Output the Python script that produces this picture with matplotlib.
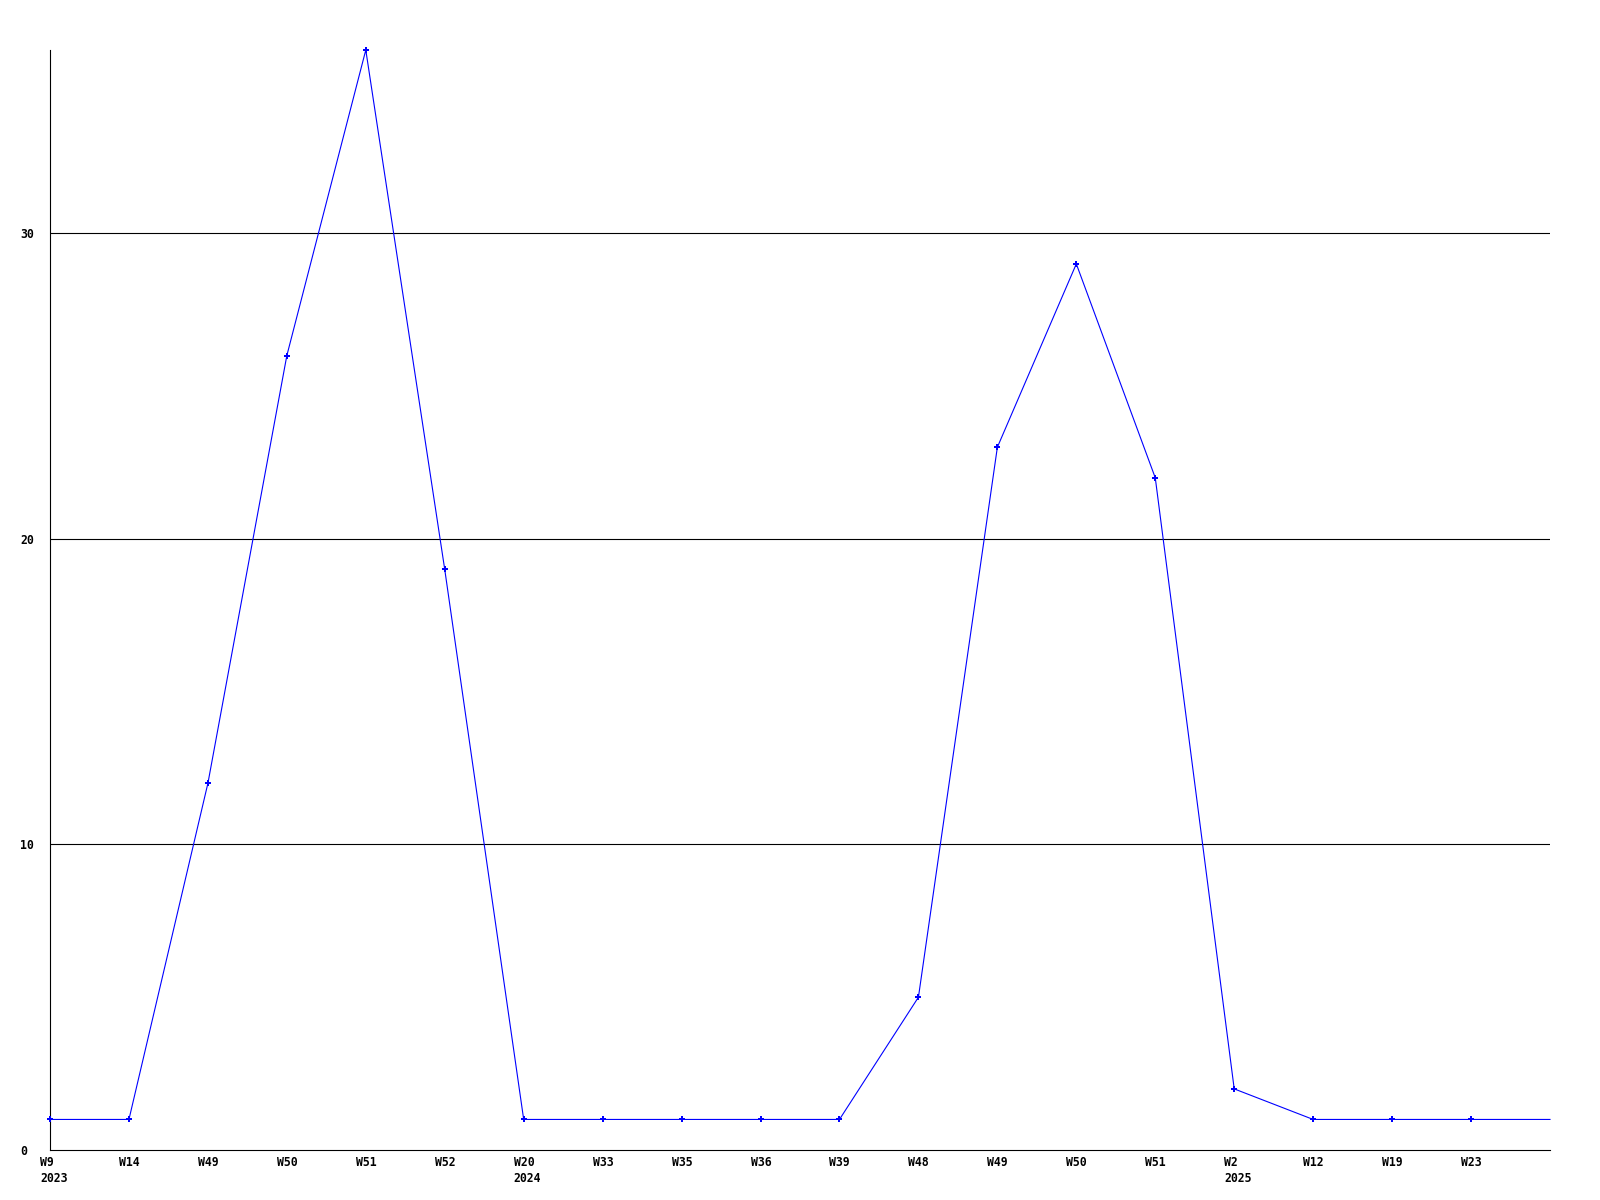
"""Weekly counts, 2023-2025: line chart with a week-label axis."""
import matplotlib
matplotlib.use("Agg")
import matplotlib.pyplot as plt
from matplotlib.transforms import ScaledTranslation

# week labels (year shown under the first week of each year)
weeks = ["W9", "W14", "W49", "W50", "W51", "W52", "W20", "W33", "W35", "W36",
         "W39", "W48", "W49", "W50", "W51", "W2", "W12", "W19", "W23"]
years = ["2023", "", "", "", "", "", "2024", "", "", "",
         "", "", "", "", "", "2025", "", "", ""]
counts = [1, 1, 12, 26, 36, 19, 1, 1, 1, 1, 1, 5, 23, 29, 22, 2, 1, 1, 1]
# the line runs on to the right edge of the plot at the last value
tail_count = 1
y_ticks = [0, 10, 20, 30]

BLUE = "#0000ff"
FONT = dict(family="DejaVu Sans Mono", weight="bold", size=8.3)

fig = plt.figure(figsize=(16, 12), dpi=100)
ax = fig.add_axes([50 / 1600, 1 - 1150 / 1200, 1500 / 1600, 1100 / 1200])

xs = list(range(len(counts) + 1))
ys = counts + [tail_count]
ax.plot(xs, ys, color=BLUE, lw=0.8, marker="P", ms=4, mew=0,
        markevery=list(range(len(counts))), clip_on=False, zorder=3)

ax.set_xlim(0, len(counts))
ax.set_ylim(0, 36)

for y in y_ticks[1:]:
    ax.axhline(y, color="black", lw=0.8, zorder=1)

ax.set_yticks(y_ticks)
ax.set_yticklabels([str(v) for v in y_ticks], ha="left", **FONT)
ax.tick_params(axis="y", length=0, pad=21.6)

ax.set_xticks(range(len(weeks)))
ax.set_xticklabels([w + ("\n" + y if y else "") for w, y in zip(weeks, years)],
                   ha="left", va="top", linespacing=1.25, **FONT)
ax.tick_params(axis="x", length=0, pad=4.5)
shift = ScaledTranslation(-10 / 100, 0, fig.dpi_scale_trans)
for lbl in ax.get_xticklabels():
    lbl.set_transform(lbl.get_transform() + shift)

for side in ("top", "right"):
    ax.spines[side].set_visible(False)
for side in ("left", "bottom"):
    ax.spines[side].set_linewidth(0.8)
    ax.spines[side].set_color("black")

fig.savefig("out.png", dpi=100)
